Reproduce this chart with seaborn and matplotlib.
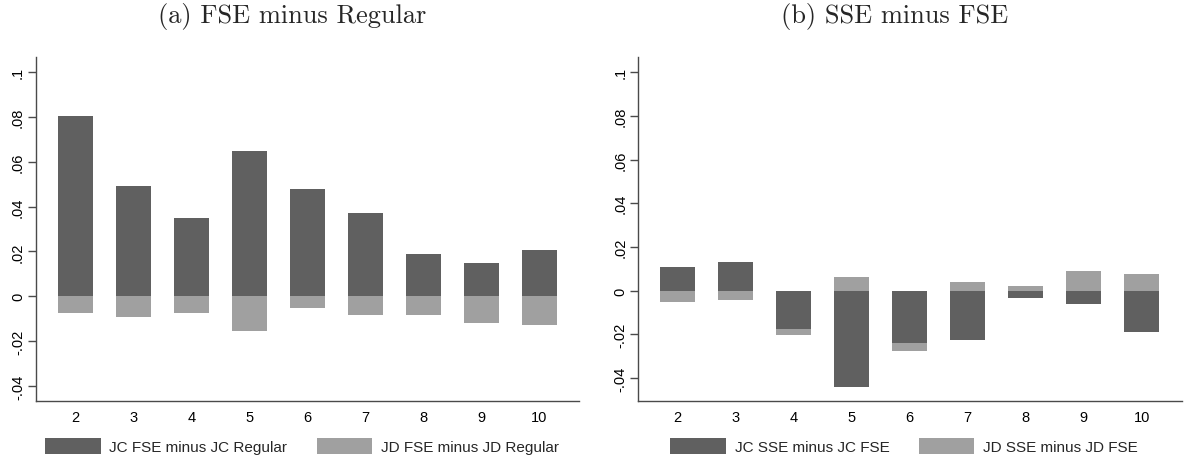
import matplotlib
matplotlib.use("Agg")
import matplotlib.pyplot as plt
from matplotlib.patches import Patch
import seaborn as sns
import pandas as pd

# ---- data ----
horizons = ["2", "3", "4", "5", "6", "7", "8", "9", "10"]
jc_fse_minus_reg = [0.0806, 0.0494, 0.0351, 0.0650, 0.0480, 0.0370, 0.0190, 0.0150, 0.0208]
jd_fse_minus_reg = [-0.0073, -0.0094, -0.0073, -0.0156, -0.0054, -0.0085, -0.0082, -0.0117, -0.0126]
jc_sse_minus_fse = [0.0108, 0.0131, -0.0177, -0.0440, -0.0240, -0.0224, -0.0032, -0.0060, -0.0188]
jd_sse_minus_fse = [-0.0050, -0.0041, -0.0202, 0.0063, -0.0275, 0.0040, 0.0021, 0.0092, 0.0076]

ytick_vals = [-0.04, -0.02, 0.0, 0.02, 0.04, 0.06, 0.08, 0.1]
ytick_labels = ["-.04", "-.02", "0", ".02", ".04", ".06", ".08", ".1"]

titles = ["(a) FSE minus Regular", "(b) SSE minus FSE"]
legend_a = ["JC FSE minus JC Regular", "JD FSE minus JD Regular"]
legend_b = ["JC SSE minus JC FSE", "JD SSE minus JD FSE"]

DARK = "#606060"
LIGHT = "#a0a0a0"
AXC = "#4a4a4a"

sns.set_theme(style="white")
plt.rcParams["font.family"] = ["Liberation Sans", "DejaVu Sans"]

fig = plt.figure(figsize=(11.84, 4.6), dpi=100)
W, H = 1184, 460

panels = [
    dict(x0=36, x1=579.3, y0=58, y1=402.3, ylim=(-0.0468, 0.1067),
         jc=jc_fse_minus_reg, jd=jd_fse_minus_reg, title=titles[0],
         tx=292.5, leg=legend_a, lx=302),
    dict(x0=638.3, x1=1181.7, y0=58, y1=402.3, ylim=(-0.0506, 0.1069),
         jc=jc_sse_minus_fse, jd=jd_sse_minus_fse, title=titles[1],
         tx=895, leg=legend_b, lx=904),
]

for p in panels:
    ax = fig.add_axes([p["x0"] / W, 1 - p["y1"] / H,
                       (p["x1"] - p["x0"]) / W, (p["y1"] - p["y0"]) / H])
    df_jd = pd.DataFrame({"horizon": horizons, "value": p["jd"]})
    df_jc = pd.DataFrame({"horizon": horizons, "value": p["jc"]})
    sns.barplot(data=df_jd, x="horizon", y="value", order=horizons, color=LIGHT,
                saturation=1, width=0.6, errorbar=None, ax=ax, linewidth=0)
    sns.barplot(data=df_jc, x="horizon", y="value", order=horizons, color=DARK,
                saturation=1, width=0.6, errorbar=None, ax=ax, linewidth=0)
    ax.set_xlim(-0.68, 8.69)
    ax.set_ylim(*p["ylim"])
    ax.set_xlabel("")
    ax.set_ylabel("")
    ax.set_yticks(ytick_vals)
    ax.set_yticklabels(ytick_labels, rotation=90, va="center")
    ax.tick_params(axis="y", length=6, width=1, color=AXC, pad=2,
                   labelsize=10.5, labelcolor="black", left=True)
    ax.tick_params(axis="x", length=0, pad=6, labelsize=10.5, labelcolor="black")
    for s in ["top", "right"]:
        ax.spines[s].set_visible(False)
    for s in ["left", "bottom"]:
        ax.spines[s].set_color(AXC)
        ax.spines[s].set_linewidth(1.0)
    ax.grid(False)

    fig.text(p["tx"] / W, 1 - 16 / H, p["title"], ha="center", va="center",
             fontsize=19, family="cmr10")

    handles = [Patch(facecolor=DARK, edgecolor="none", label=p["leg"][0]),
               Patch(facecolor=LIGHT, edgecolor="none", label=p["leg"][1])]
    fig.legend(handles=handles, loc="center", bbox_to_anchor=(p["lx"] / W, 1 - 447 / H),
               ncol=2, frameon=False, fontsize=11, handlelength=3.66, handleheight=1.25,
               handletextpad=0.55, columnspacing=1.9, borderpad=0, borderaxespad=0)

fig.savefig("out.png", dpi=100, facecolor="white")
